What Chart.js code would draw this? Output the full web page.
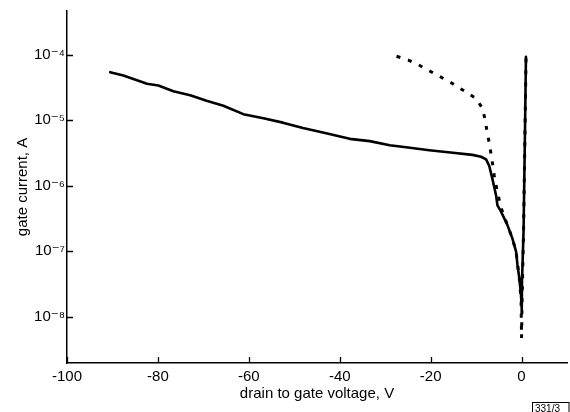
<!DOCTYPE html>
<html><head><meta charset="utf-8">
<script src="https://cdn.jsdelivr.net/npm/chart.js@4/dist/chart.umd.min.js"></script>
<style>html,body{margin:0;padding:0;background:#fff}</style>
</head><body>
<canvas id="c" width="570" height="412"></canvas>
<script>
// ---- data ----
const xTickValues = [-100, -80, -60, -40, -20, 0];
const yTickExponents = [-8, -7, -6, -5, -4];

// solid curve: drain-to-gate voltage (V) and gate current (A)
const solidVoltage = [-90.5, -87.6, -82.4, -79.9, -76.6, -72.9, -69.3, -65.6, -61.2, -56.8, -52.5, -48.1, -43.7, -37.8, -33.4, -29.0, -25.4, -20.3, -15.1, -10.8, -8.9, -7.8, -7.1, -6.4, -5.6, -5.3, -4.5, -3.1, -2.0, -1.2, -0.9, -0.5, -0.13, 0.05, 0.1, 0.44, 0.75, 0.97];
const solidCurrent = [5.43e-5, 4.82e-5, 3.61e-5, 3.40e-5, 2.77e-5, 2.41e-5, 1.98e-5, 1.67e-5, 1.24e-5, 1.07e-5, 9.2e-6, 7.6e-6, 6.5e-6, 5.2e-6, 4.8e-6, 4.15e-6, 3.87e-6, 3.49e-6, 3.18e-6, 2.96e-6, 2.77e-6, 2.52e-6, 2.0e-6, 1.26e-6, 7.1e-7, 5.0e-7, 4.0e-7, 2.5e-7, 1.55e-7, 9.8e-8, 6.2e-8, 3.9e-8, 2.2e-8, 1.26e-8, 3.5e-8, 2.0e-7, 6.3e-6, 9.3e-5];

// dotted curve
const dottedVoltage = [-27.5, -24.9, -22.6, -20.1, -17.7, -15.1, -10.0, -8.6, -8.0, -7.6, -7.1, -6.7, -6.3, -6.0, -5.6, -5.1, -4.7, -3.1, -2.0, -1.2, -0.5, -0.1, 0.0, 0.1, 0.44, 0.75, 1.0];
const dottedCurrent = [9.5e-5, 8.3e-5, 7.0e-5, 5.6e-5, 4.56e-5, 3.61e-5, 2.15e-5, 1.52e-5, 1.01e-5, 6.8e-6, 4.5e-6, 3.0e-6, 2.0e-6, 1.42e-6, 1.0e-6, 7.1e-7, 5.0e-7, 2.5e-7, 1.55e-7, 9.8e-8, 3.9e-8, 1.8e-8, 4.7e-9, 1.5e-8, 2.0e-7, 6.3e-6, 1.0e-4];

const xTitle = 'drain to gate voltage, V';
const yTitle = 'gate current, A';
const figureTag = '331/3';

// ---- helpers ----
const SUP = {'-': '\u207B', '0': '\u2070', '1': '\u00B9', '2': '\u00B2', '3': '\u00B3', '4': '\u2074', '5': '\u2075', '6': '\u2076', '7': '\u2077', '8': '\u2078', '9': '\u2079'};
const sup = s => String(s).split('').map(ch => SUP[ch] || ch).join('');
const toPoints = (xs, ys) => xs.map((x, i) => ({x: x, y: ys[i]}));
const FONT = "'Liberation Sans', Arial, 'DejaVu Sans', sans-serif";

const innerTicks = {
  id: 'innerTicks',
  afterDraw(chart) {
    const ctx = chart.ctx;
    const {x, y} = chart.scales;
    ctx.save();
    ctx.strokeStyle = '#000';
    ctx.lineWidth = 1.3;
    ctx.beginPath();
    x.ticks.forEach(t => {
      const px = Math.round(x.getPixelForValue(t.value)) + 0.5;
      ctx.moveTo(px, x.top);
      ctx.lineTo(px, x.top - 6);
    });
    y.ticks.forEach(t => {
      const py = Math.round(y.getPixelForValue(t.value)) + 0.5;
      ctx.moveTo(y.right, py);
      ctx.lineTo(y.right + 6, py);
    });
    ctx.stroke();
    // figure tag box
    ctx.font = '10px ' + FONT;
    ctx.fillStyle = '#000';
    ctx.textBaseline = 'alphabetic';
    ctx.textAlign = 'left';
    ctx.fillText(figureTag, 535, 412);
    ctx.lineWidth = 1;
    ctx.strokeRect(532.5, 402.5, 36.5, 12);
    ctx.restore();
  }
};

new Chart(document.getElementById('c'), {
  type: 'line',
  data: {
    datasets: [
      {
        data: toPoints(solidVoltage, solidCurrent),
        borderColor: '#000', borderWidth: 2.6, pointRadius: 0, tension: 0, fill: false,
        borderCapStyle: 'round', borderJoinStyle: 'round'
      },
      {
        data: toPoints(dottedVoltage, dottedCurrent),
        borderColor: '#000', borderWidth: 3, pointRadius: 0, tension: 0, fill: false,
        borderDash: [4, 8]
      }
    ]
  },
  options: {
    responsive: false,
    animation: false,
    events: [],
    layout: {padding: {top: 6, right: 3, left: 0, bottom: 0}},
    plugins: {legend: {display: false}, tooltip: {enabled: false}},
    scales: {
      x: {
        type: 'linear', min: -100, max: 10,
        afterBuildTicks: s => { s.ticks = xTickValues.map(v => ({value: v})); },
        afterFit: s => { s.height = 49; },
        grid: {display: false, drawTicks: false},
        border: {display: true, color: '#000', width: 1.5},
        ticks: {color: '#000', font: {family: FONT, size: 15}, padding: 5, maxRotation: 0,
                callback: v => String(v)},
        title: {display: true, text: xTitle, color: '#000', font: {family: FONT, size: 15},
                padding: {top: 0, bottom: 9}}
      },
      y: {
        type: 'logarithmic', min: Math.pow(10, -8.71), max: Math.pow(10, -3.33),
        afterBuildTicks: s => { s.ticks = yTickExponents.map(e => ({value: Math.pow(10, e)})); },
        afterFit: s => { s.width = 67; },
        grid: {display: false, drawTicks: false},
        border: {display: true, color: '#000', width: 1.5},
        ticks: {color: '#000', font: {family: FONT, size: 15}, padding: 2,
                callback: v => '10' + sup(Math.round(Math.log10(v)))},
        title: {display: true, text: yTitle, color: '#000', font: {family: FONT, size: 15},
                padding: {top: 14, bottom: 0}}
      }
    }
  },
  plugins: [innerTicks]
});
</script>
</body></html>
